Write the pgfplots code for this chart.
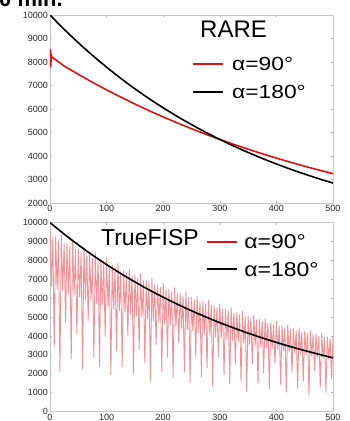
\documentclass[border=0pt]{standalone}
\usepackage{fontspec}
\setmainfont{Liberation Sans}
\usepackage{pgfplots}
\pgfplotsset{compat=1.18}
\definecolor{myred}{RGB}{222,18,18}
\definecolor{mypink}{RGB}{238,148,152}
\begin{document}
\begin{tikzpicture}[x=1pt,y=1pt]
\pgfplotsset{
  mystyle/.style={
    scale only axis, width=283pt,
    xmin=0, xmax=500,
    xtick={0,100,...,500},
    scaled x ticks=false, scaled y ticks=false,
    tick align=inside, major tick length=2pt,
    every tick/.style={gray!60},
    axis line style={gray!45, line width=0.6pt},
    tick label style={font=\fontsize{9}{10}\selectfont, text=black!85},
    /pgf/number format/assume math mode=true,
    /pgf/number format/1000 sep={},
    xticklabel style={yshift=1pt},
    yticklabel style={xshift=1.5pt},
  }
}
% cut-off title at the very top
\node[anchor=base west, font=\bfseries\fontsize{22}{24}\selectfont, inner sep=0pt] at (-1pt,414pt) {0 min.};

\begin{axis}[mystyle, height=188pt, at={(50pt,218pt)}, anchor=south west,
  ymin=2000, ymax=10000, ytick={2000,3000,...,10000}]
\addplot[myred, line width=1.6pt] coordinates {
(0,8250)(0.8,8550)(1.4,7780)(2,8320)(4,8190)(10,8100)
(25,7829)(50,7475)(75,7137)(100,6814)(125,6506)(150,6211)(175,5930)
(200,5662)(225,5406)(250,5161)(275,4928)(300,4705)(325,4492)(350,4289)
(375,4095)(400,3910)(425,3733)(450,3564)(475,3403)(500,3249)};
\addplot[black, line width=1.6pt, smooth] coordinates {
(0,10000)(25,9391)(50,8820)(75,8283)(100,7779)(125,7305)(150,6860)(175,6443)
(200,6051)(225,5682)(250,5336)(275,5011)(300,4706)(325,4420)(350,4151)
(375,3898)(400,3661)(425,3438)(450,3229)(475,3032)(500,2848)};
\node[anchor=base west, font=\fontsize{24}{26}\selectfont, inner sep=0pt] at (axis description cs:0.530,0.883) {RARE};
\draw[myred, line width=2pt] (axis description cs:0.505,0.738) -- (axis description cs:0.611,0.738);
\draw[black, line width=2pt] (axis description cs:0.505,0.592) -- (axis description cs:0.611,0.592);
\node[anchor=west, inner sep=0pt] at (axis description cs:0.643,0.738) {\scalebox{1.2}[1]{\fontsize{19}{21}\selectfont α=90°}};
\node[anchor=west, inner sep=0pt] at (axis description cs:0.643,0.592) {\scalebox{1.2}[1]{\fontsize{19}{21}\selectfont α=180°}};
\end{axis}

\begin{axis}[mystyle, height=189pt, at={(50pt,9.4pt)}, anchor=south west,
  ymin=0, ymax=10000, ytick={0,1000,...,10000}]
\addplot[mypink, line width=0.9pt, line join=miter] coordinates {
(0,9700)(2.5,6600)(5,9220)(7.5,3400)
(10,9240)(12.5,6480)(15,9050)(17.5,2100)
(20,9360)(22.5,6370)(25,8900)(27.5,4680)
(30,8920)(32.5,6260)(35,8740)(37.5,2760)
(40,9040)(42.5,6150)(45,8590)(47.5,4070)
(50,8610)(52.5,6040)(55,8440)(57.5,2220)
(60,8720)(62.5,5930)(65,8290)(67.5,4800)
(70,8310)(72.5,5830)(75,8140)(77.5,2830)
(80,8420)(82.5,5730)(85,8000)(87.5,2360)
(90,8020)(92.5,5630)(95,7860)(97.5,3970)
(100,8130)(102.5,5530)(105,7720)(107.5,1950)
(110,7750)(112.5,5430)(115,7590)(117.5,3190)
(120,7850)(122.5,5330)(125,7450)(127.5,2350)
(130,7480)(132.5,5240)(135,7320)(137.5,4010)
(140,7570)(142.5,5150)(145,7190)(147.5,1970)
(150,7220)(152.5,5060)(155,7070)(157.5,3270)
(160,7310)(162.5,4970)(165,6940)(167.5,2560)
(170,6970)(172.5,4880)(175,6820)(177.5,1580)
(180,7060)(182.5,4800)(185,6700)(187.5,3530)
(190,6720)(192.5,4710)(195,6580)(197.5,2080)
(200,6810)(202.5,4630)(205,6470)(207.5,2860)
(210,6490)(212.5,4550)(215,6360)(217.5,1810)
(220,6570)(222.5,4470)(225,6240)(227.5,3620)
(230,6260)(232.5,4390)(235,6140)(237.5,2070)
(240,6350)(242.5,4310)(245,6030)(247.5,1520)
(250,6050)(252.5,4240)(255,5920)(257.5,2870)
(260,6120)(262.5,4160)(265,5820)(267.5,1840)
(270,5840)(272.5,4090)(275,5720)(277.5,2290)
(280,5910)(282.5,4020)(285,5620)(287.5,1300)
(290,5630)(292.5,3950)(295,5520)(297.5,2900)
(300,5710)(302.5,3880)(305,5420)(307.5,1940)
(310,5440)(312.5,3810)(315,5330)(317.5,1460)
(320,5510)(322.5,3740)(325,5230)(327.5,2480)
(330,5250)(332.5,3680)(335,5140)(337.5,1620)
(340,5320)(342.5,3610)(345,5050)(347.5,1060)
(350,5070)(352.5,3550)(355,4960)(357.5,2510)
(360,5130)(362.5,3490)(365,4870)(367.5,1440)
(370,4890)(372.5,3430)(375,4790)(377.5,2020)
(380,4950)(382.5,3370)(385,4710)(387.5,1190)
(390,4720)(392.5,3310)(395,4620)(397.5,2530)
(400,4780)(402.5,3250)(405,4540)(407.5,1430)
(410,4560)(412.5,3190)(415,4460)(417.5,1030)
(420,4620)(422.5,3140)(425,4380)(427.5,2080)
(430,4400)(432.5,3080)(435,4310)(437.5,1220)
(440,4450)(442.5,3030)(445,4230)(447.5,1600)
(450,4240)(452.5,2980)(455,4160)(457.5,880)
(460,4300)(462.5,2920)(465,4090)(467.5,2150)
(470,4100)(472.5,2870)(475,4010)(477.5,1270)
(480,4150)(482.5,2820)(485,3940)(487.5,1000)
(490,3960)(492.5,2770)(495,3870)(497.5,1710)
(500,4010)};
\addplot[black, line width=1.6pt, smooth] coordinates {
(0,10000)(25,9391)(50,8820)(75,8283)(100,7779)(125,7305)(150,6860)(175,6443)
(200,6051)(225,5682)(250,5336)(275,5011)(300,4706)(325,4420)(350,4151)
(375,3898)(400,3661)(425,3438)(450,3229)(475,3032)(500,2848)};
\node[anchor=base west, font=\fontsize{23}{25}\selectfont, inner sep=0pt] at (axis description cs:0.180,0.878) {TrueFISP};
\draw[myred, line width=2pt] (axis description cs:0.555,0.899) -- (axis description cs:0.661,0.899);
\draw[black, line width=2pt] (axis description cs:0.555,0.753) -- (axis description cs:0.661,0.753);
\node[anchor=west, inner sep=0pt] at (axis description cs:0.686,0.899) {\scalebox{1.15}[1]{\fontsize{20}{22}\selectfont α=90°}};
\node[anchor=west, inner sep=0pt] at (axis description cs:0.686,0.753) {\scalebox{1.15}[1]{\fontsize{20}{22}\selectfont α=180°}};
\end{axis}
\pgfresetboundingbox
\path[use as bounding box] (0pt,0pt) rectangle (350pt,421pt);
\end{tikzpicture}
\end{document}
